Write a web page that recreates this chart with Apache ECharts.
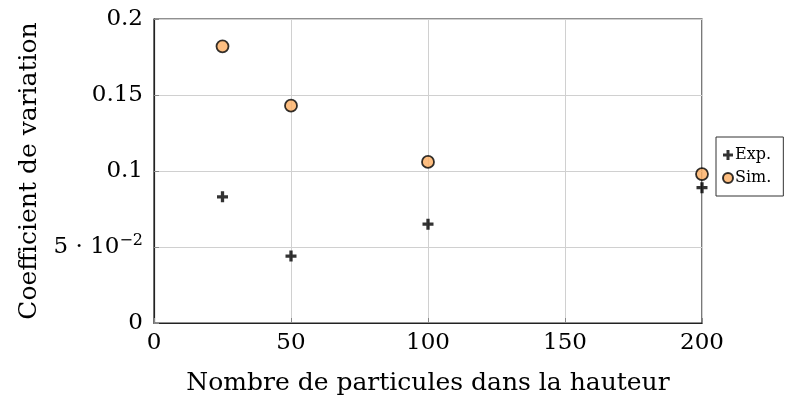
<!DOCTYPE html>
<html><head><meta charset="utf-8">
<script src="https://cdn.jsdelivr.net/npm/echarts@6/dist/echarts.min.js"></script>
<style>html,body{margin:0;padding:0;background:#fff}#c{width:790px;height:401px}</style>
</head><body><div id="c"></div>
<script>
const particles = [25, 50, 100, 200];
const expValues = [0.083, 0.044, 0.065, 0.089];
const simValues = [0.182, 0.143, 0.106, 0.098];
const xTicks = [0, 50, 100, 150, 200];
const yTicks = [0, 0.05, 0.1, 0.15, 0.2];
const yTickLabels = ['0', '5 · 10^-2', '0.1', '0.15', '0.2'];

const FONT = '"DejaVu Serif", "Liberation Serif", serif';
const plusPath = 'path://M3.5,0H6.5V3.5H10V6.5H6.5V10H3.5V6.5H0V3.5H3.5Z';

const chart = echarts.init(document.getElementById('c'));
chart.setOption({
  animation: false,
  backgroundColor: '#fff',
  grid: { left: 154, right: 88, top: 19, bottom: 78, show: true, borderColor: '#222', borderWidth: 1.2, containLabel: false },
  legend: {
    orient: 'vertical', left: 716, top: 137,
    padding: [10, 12, 10, 6], itemGap: 7, itemWidth: 10, itemHeight: 10,
    borderColor: '#333', borderWidth: 1,
    textStyle: { fontFamily: FONT, fontSize: 16, color: '#000', padding: [0, 0, 0, -3] },
    data: [
      { name: 'Exp.', icon: plusPath },
      { name: 'Sim.', icon: 'circle' }
    ]
  },
  xAxis: {
    type: 'value', min: 0, max: 200, interval: 50,
    name: 'Nombre de particules dans la hauteur', nameLocation: 'middle', nameGap: 48,
    nameTextStyle: { fontFamily: FONT, fontSize: 25, color: '#000' },
    axisLine: { show: true, lineStyle: { color: '#222', width: 1.2 } },
    axisTick: { show: true, inside: true, length: 5, lineStyle: { color: '#888' } },
    axisLabel: { fontFamily: FONT, fontSize: 23, color: '#000', margin: 9,
      formatter: v => xTicks.includes(v) ? String(v) : '' },
    splitLine: { show: true, lineStyle: { color: '#d0d0d0', width: 1 } }
  },
  yAxis: {
    type: 'value', min: 0, max: 0.2, interval: 0.05,
    name: 'Coefficient de variation', nameLocation: 'middle', nameGap: 112, nameRotate: 90,
    nameTextStyle: { fontFamily: FONT, fontSize: 25, color: '#000' },
    axisLine: { show: true, lineStyle: { color: '#222', width: 1.2 } },
    axisTick: { show: true, inside: true, length: 5, lineStyle: { color: '#888' } },
    axisLabel: {
      fontFamily: FONT, fontSize: 23, color: '#000', margin: 11,
      formatter: v => {
        const i = yTicks.findIndex(t => Math.abs(t - v) < 1e-9);
        if (i < 0) return '';
        const s = yTickLabels[i];
        if (s.includes('^')) {
          const [b, e] = s.split('^');
          return '{b|' + b + '}{e|' + e.replace('-', '−') + '}';
        }
        return s;
      },
      rich: {
        b: { fontFamily: FONT, fontSize: 23, color: '#000' },
        e: { fontFamily: FONT, fontSize: 16, color: '#000', verticalAlign: 'top', padding: [0, 0, 12, 0] }
      }
    },
    splitLine: { show: true, lineStyle: { color: '#d0d0d0', width: 1 } }
  },
  series: [
    {
      name: 'Exp.', type: 'scatter', symbol: plusPath, symbolSize: 11,
      itemStyle: { color: '#000' },
      data: particles.map((p, i) => [p, expValues[i]])
    },
    {
      name: 'Sim.', type: 'scatter', symbol: 'circle', symbolSize: 12,
      itemStyle: { color: '#fdae61', borderColor: '#000', borderWidth: 1.8 },
      data: particles.map((p, i) => [p, simValues[i]])
    }
  ]
});
</script></body></html>
